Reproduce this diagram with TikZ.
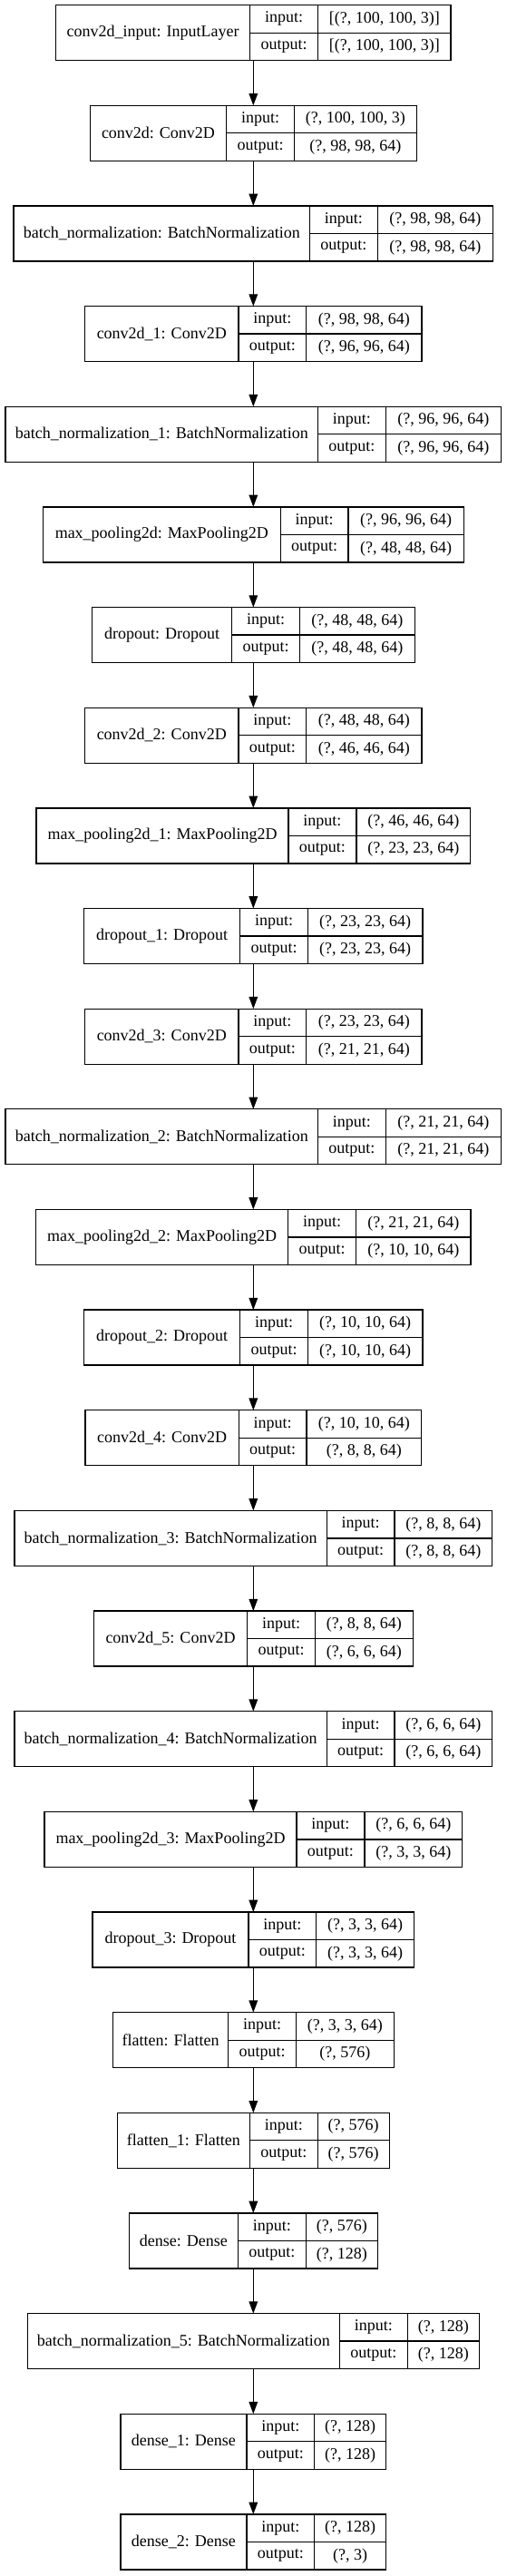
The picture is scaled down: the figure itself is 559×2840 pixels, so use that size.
\documentclass[tikz,border=0pt]{standalone}
\usepackage{fontspec}
\setmainfont{Liberation Serif}
\usetikzlibrary{arrows.meta}
\newcommand\nodefont{\fontsize{18}{21}\selectfont}
\tikzset{
  cell/.style={draw=black, line width=1.3pt, inner sep=0pt, outer sep=0pt, anchor=north west, font=\nodefont, align=center},
  boxall/.style={inner sep=0pt, outer sep=0pt, anchor=north west, minimum height=61pt},
  edge/.style={line width=1.3pt, -{Triangle[length=13.3pt,width=9.6pt]}}
}
% #1 node name, #2 index, #3 label, #4 input value, #5 output value, #6 label col width, #7 value col width
\newcommand\kerasLayer[7]{%
  \pgfmathsetmacro\kqTot{#6+74.8+#7}%
  \pgfmathsetmacro\kqXl{279.3-\kqTot/2}%
  \pgfmathsetmacro\kqXm{\kqXl+#6}%
  \pgfmathsetmacro\kqXr{\kqXm+74.8}%
  \pgfmathsetmacro\kqYt{2840-5.7-#2*110.65}%
  \pgfmathsetmacro\kqYm{\kqYt-30.5}%
  \node[boxall, minimum width=\kqTot pt] (#1) at (\kqXl pt,\kqYt pt) {};
  \node[cell, minimum width=#6pt, minimum height=61pt] (#1-label) at (\kqXl pt,\kqYt pt) {#3};
  \node[cell, minimum width=74.8pt, minimum height=30.5pt] (#1-kin) at (\kqXm pt,\kqYt pt) {input:};
  \node[cell, minimum width=74.8pt, minimum height=30.5pt] (#1-kout) at (\kqXm pt,\kqYm pt) {output:};
  \node[cell, minimum width=#7pt, minimum height=30.5pt] (#1-vin) at (\kqXr pt,\kqYt pt) {#4};
  \node[cell, minimum width=#7pt, minimum height=30.5pt] (#1-vout) at (\kqXr pt,\kqYm pt) {#5};
}
\begin{document}
\begin{tikzpicture}
\fill[white] (0pt,0pt) rectangle (559pt,2840pt);
\useasboundingbox (0pt,0pt) rectangle (559pt,2840pt);
\kerasLayer{L1}{0}{conv2d\_input: InputLayer}{[(?, 100, 100, 3)]}{[(?, 100, 100, 3)]}{214.3}{146.5}
\kerasLayer{L2}{1}{conv2d: Conv2D}{(?, 100, 100, 3)}{(?, 98, 98, 64)}{150.5}{134.8}
\kerasLayer{L3}{2}{batch\_normalization: BatchNormalization}{(?, 98, 98, 64)}{(?, 98, 98, 64)}{326.5}{127.3}
\kerasLayer{L4}{3}{conv2d\_1: Conv2D}{(?, 98, 98, 64)}{(?, 96, 96, 64)}{169.3}{127.3}
\kerasLayer{L5}{4}{batch\_normalization\_1: BatchNormalization}{(?, 96, 96, 64)}{(?, 96, 96, 64)}{344.3}{127.3}
\kerasLayer{L6}{5}{max\_pooling2d: MaxPooling2D}{(?, 96, 96, 64)}{(?, 48, 48, 64)}{262.0}{127.3}
\kerasLayer{L7}{6}{dropout: Dropout}{(?, 48, 48, 64)}{(?, 48, 48, 64)}{154.4}{126.6}
\kerasLayer{L8}{7}{conv2d\_2: Conv2D}{(?, 48, 48, 64)}{(?, 46, 46, 64)}{169.3}{127.3}
\kerasLayer{L9}{8}{max\_pooling2d\_1: MaxPooling2D}{(?, 46, 46, 64)}{(?, 23, 23, 64)}{278.1}{125.8}
\kerasLayer{L10}{9}{dropout\_1: Dropout}{(?, 23, 23, 64)}{(?, 23, 23, 64)}{172.0}{126.6}
\kerasLayer{L11}{10}{conv2d\_3: Conv2D}{(?, 23, 23, 64)}{(?, 21, 21, 64)}{169.3}{127.3}
\kerasLayer{L12}{11}{batch\_normalization\_2: BatchNormalization}{(?, 21, 21, 64)}{(?, 21, 21, 64)}{344.3}{127.3}
\kerasLayer{L13}{12}{max\_pooling2d\_2: MaxPooling2D}{(?, 21, 21, 64)}{(?, 10, 10, 64)}{278.1}{126.6}
\kerasLayer{L14}{13}{dropout\_2: Dropout}{(?, 10, 10, 64)}{(?, 10, 10, 64)}{172.0}{126.6}
\kerasLayer{L15}{14}{conv2d\_4: Conv2D}{(?, 10, 10, 64)}{(?, 8, 8, 64)}{169.3}{126.6}
\kerasLayer{L16}{15}{batch\_normalization\_3: BatchNormalization}{(?, 8, 8, 64)}{(?, 8, 8, 64)}{344.3}{107.8}
\kerasLayer{L17}{16}{conv2d\_5: Conv2D}{(?, 8, 8, 64)}{(?, 6, 6, 64)}{169.3}{107.8}
\kerasLayer{L18}{17}{batch\_normalization\_4: BatchNormalization}{(?, 6, 6, 64)}{(?, 6, 6, 64)}{344.3}{107.8}
\kerasLayer{L19}{18}{max\_pooling2d\_3: MaxPooling2D}{(?, 6, 6, 64)}{(?, 3, 3, 64)}{278.1}{107.8}
\kerasLayer{L20}{19}{dropout\_3: Dropout}{(?, 3, 3, 64)}{(?, 3, 3, 64)}{172.0}{107.8}
\kerasLayer{L21}{20}{flatten: Flatten}{(?, 3, 3, 64)}{(?, 576)}{127.2}{107.7}
\kerasLayer{L22}{21}{flatten\_1: Flatten}{(?, 576)}{(?, 576)}{146.0}{79.1}
\kerasLayer{L23}{22}{dense: Dense}{(?, 576)}{(?, 128)}{120.1}{79.1}
\kerasLayer{L24}{23}{batch\_normalization\_5: BatchNormalization}{(?, 128)}{(?, 128)}{344.3}{79.1}
\kerasLayer{L25}{24}{dense\_1: Dense}{(?, 128)}{(?, 128)}{139.0}{79.1}
\kerasLayer{L26}{25}{dense\_2: Dense}{(?, 128)}{(?, 3)}{139.0}{79.1}
\foreach \a/\b in {1/2,2/3,3/4,4/5,5/6,6/7,7/8,8/9,9/10,10/11,11/12,12/13,13/14,14/15,15/16,16/17,17/18,18/19,19/20,20/21,21/22,22/23,23/24,24/25,25/26}
  \draw[edge] (L\a.south) -- (L\b.north);
\end{tikzpicture}
\end{document}
